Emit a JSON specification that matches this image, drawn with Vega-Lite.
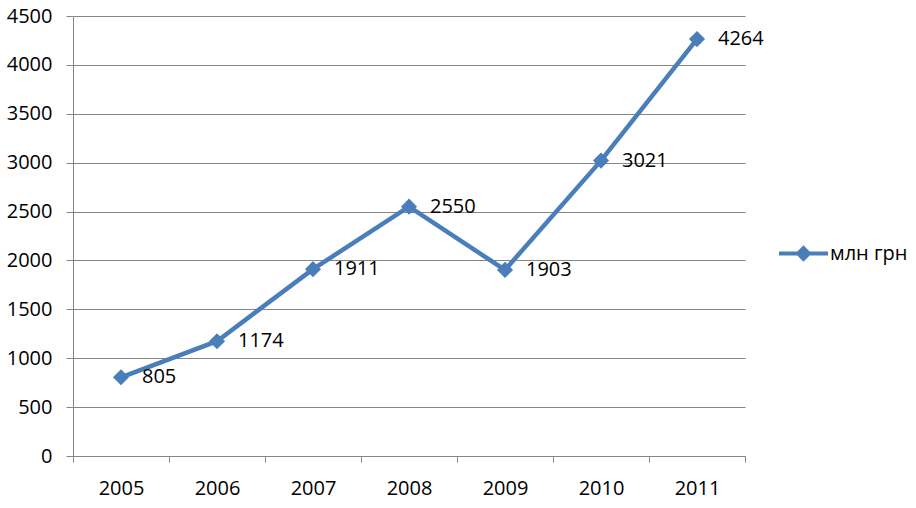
{
  "$schema": "https://vega.github.io/schema/vega-lite/v6.json",
  "width": 672,
  "height": 440,
  "autosize": {"type": "none"},
  "padding": {"left": 73, "top": 16, "right": 171, "bottom": 52},
  "background": "white",
  "config": {"view": {"stroke": null}, "font": "Open Sans"},
  "data": {
    "values": [
      {"year": "2005", "value": 805, "series": "млн грн"},
      {"year": "2006", "value": 1174, "series": "млн грн"},
      {"year": "2007", "value": 1911, "series": "млн грн"},
      {"year": "2008", "value": 2550, "series": "млн грн"},
      {"year": "2009", "value": 1903, "series": "млн грн"},
      {"year": "2010", "value": 3021, "series": "млн грн"},
      {"year": "2011", "value": 4264, "series": "млн грн"}
    ]
  },
  "encoding": {
    "x": {
      "field": "year",
      "type": "ordinal",
      "bandPosition": 0.5,
      "scale": {"type": "band", "paddingInner": 0, "paddingOuter": 0},
      "axis": {
        "title": null,
        "labelAngle": 0,
        "labelFontSize": 20,
        "labelFont": "Open Sans",
        "labelColor": "black",
        "labelPadding": 16,
        "tickSize": 6,
        "tickColor": "#868686",
        "domainColor": "#868686",
        "tickBand": "extent",
        "grid": false
      }
    },
    "y": {
      "field": "value",
      "type": "quantitative",
      "scale": {"domain": [0, 4500], "nice": false},
      "axis": {
        "title": null,
        "format": "d",
        "values": [0, 500, 1000, 1500, 2000, 2500, 3000, 3500, 4000, 4500],
        "labelFontSize": 20,
        "labelFont": "Open Sans",
        "labelColor": "black",
        "labelPadding": 14,
        "tickSize": 7,
        "tickColor": "#868686",
        "domainColor": "#868686",
        "gridColor": "#868686",
        "grid": true
      }
    }
  },
  "layer": [
    {
      "mark": {
        "type": "line",
        "strokeWidth": 4.5,
        "point": {"filled": true, "shape": "diamond", "size": 260}
      },
      "encoding": {
        "color": {
          "field": "series",
          "type": "nominal",
          "scale": {"range": ["#4A7EBB"]},
          "legend": {
            "orient": "none",
            "legendX": 704,
            "legendY": 211,
            "title": null,
            "padding": 0,
            "symbolType": "M-1,0L1,0M0,-0.22L0.22,0L0,0.22L-0.22,0Z",
            "symbolSize": 2401,
            "symbolStrokeWidth": 4,
            "symbolFillColor": "#4A7EBB",
            "symbolStrokeColor": "#4A7EBB",
            "labelFontSize": 20,
            "labelFont": "Open Sans",
            "labelColor": "black",
            "labelOffset": 0
          }
        }
      }
    },
    {
      "mark": {
        "type": "text",
        "align": "left",
        "baseline": "middle",
        "dx": 21,
        "fontSize": 20,
        "font": "Open Sans",
        "color": "black"
      },
      "encoding": {"text": {"field": "value", "type": "quantitative"}}
    }
  ]
}
